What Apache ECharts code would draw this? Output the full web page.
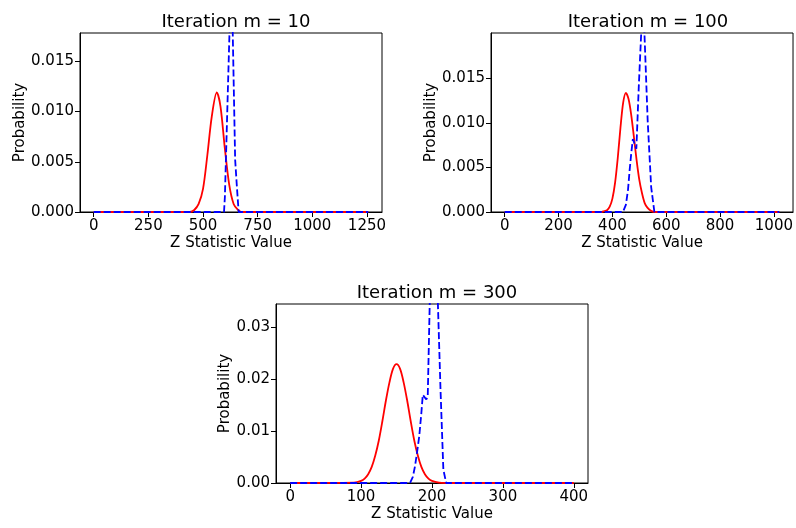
<!DOCTYPE html>
<html>
<head>
<meta charset="utf-8">
<script src="https://cdn.jsdelivr.net/npm/echarts@6/dist/echarts.min.js"></script>
<style>
html,body{margin:0;padding:0;background:#fff;}
#chart{width:796px;height:528px;}
</style>
</head>
<body>
<div id="chart"></div>
<script>
// ---- Titles ----
const titles = ["Iteration m = 10", "Iteration m = 100", "Iteration m = 300"];
const xAxisName = "Z Statistic Value";
const yAxisName = "Probability";

// ---- Tick labels ----
const m10XTicks = [0, 250, 500, 750, 1000, 1250];
const m10YTicks = [0, 0.005, 0.010, 0.015];
const m100XTicks = [0, 200, 400, 600, 800, 1000];
const m100YTicks = [0, 0.005, 0.010, 0.015];
const m300XTicks = [0, 100, 200, 300, 400];
const m300YTicks = [0, 0.01, 0.02, 0.03];

// ---- m = 10 ----
const m10RedX = [0, 440, 460, 480, 500, 520, 540, 563, 580, 600, 620, 640, 660, 675, 1256];
const m10RedY = [0, 0, 0.0002, 0.0008, 0.0023, 0.0057, 0.0095, 0.0119, 0.0105, 0.0063, 0.0027, 0.0008, 0.0002, 0, 0];
const m10BlueX = [0, 596, 600, 610, 621, 627, 631, 636, 647, 655, 663, 1256];
const m10BlueY = [0, 0, 0.0015, 0.0093, 0.0178, 0.024, 0.024, 0.0178, 0.0052, 0.0025, 0, 0];

// ---- m = 100 ----
const m100RedX = [0, 360, 370, 380, 390, 400, 410, 420, 430, 440, 450, 460, 470, 480, 490, 500, 510, 520, 530, 545, 560, 1020];
const m100RedY = [0, 0, 0.0001, 0.0002, 0.0006, 0.0015, 0.0033, 0.0061, 0.0095, 0.0123, 0.0134, 0.0127, 0.0109, 0.0084, 0.0058, 0.0036, 0.0021, 0.001, 0.0005, 0.0001, 0, 0];
const m100BlueX = [0, 439, 450, 458, 464, 470, 476, 482, 489, 498, 507, 513, 519, 531, 544, 556, 1020];
const m100BlueY = [0, 0, 0.0008, 0.0025, 0.0047, 0.0066, 0.0082, 0.0077, 0.0071, 0.0141, 0.0201, 0.024, 0.0201, 0.0103, 0.0028, 0, 0];

// ---- m = 300 ----
const m300RedX = [0, 90, 100, 105, 110, 115, 120, 125, 130, 135, 140, 145, 150, 155, 160, 165, 170, 175, 180, 185, 190, 195, 200, 210, 220, 400];
const m300RedY = [0, 0.00006, 0.0004, 0.00085, 0.0017, 0.0031, 0.0053, 0.0082, 0.0119, 0.0159, 0.0194, 0.0220, 0.0229, 0.0220, 0.0194, 0.0159, 0.0119, 0.0082, 0.0053, 0.0031, 0.0017, 0.00085, 0.0004, 0.00006, 0, 0];
const m300BlueX = [0, 169, 173, 176, 179, 182, 185, 187, 189, 192, 194, 197, 202, 208, 212, 216, 220, 400];
const m300BlueY = [0, 0, 0.0012, 0.0032, 0.006, 0.009, 0.0135, 0.017, 0.0168, 0.0161, 0.0167, 0.036, 0.05, 0.036, 0.018, 0.0026, 0, 0];

function pairs(xs, ys) { return xs.map((x, i) => [x, ys[i]]); }

const FONT = "DejaVu Sans";
const grids = [
  {left: 80, top: 33, width: 302, height: 179},
  {left: 491, top: 33, width: 304, height: 179},
  {left: 276, top: 304, width: 312, height: 179}
];
const xRanges = [[-62.8, 1318.8], [-51, 1071], [-20, 420]];
const yMax = [0.01782, 0.02012, 0.03451];
const xTicks = [m10XTicks, m100XTicks, m300XTicks];
const yTicks = [m10YTicks, m100YTicks, m300YTicks];
const yDecimals = [3, 3, 2];
const yNameGaps = [51, 51, 42];

const option = {
  animation: false,
  backgroundColor: '#fff',
  title: grids.map((g, i) => ({
    text: titles[i],
    left: g.left + g.width / 2,
    top: g.top - 25,
    textAlign: 'center',
    textStyle: {fontFamily: FONT, fontSize: 18, fontWeight: 'normal', color: '#000'}
  })),
  grid: grids.map(g => Object.assign({show: true, borderColor: '#000', borderWidth: 1, backgroundColor: 'transparent'}, g)),
  xAxis: grids.map((g, i) => ({
    type: 'value', gridIndex: i, min: xRanges[i][0], max: xRanges[i][1],
    name: xAxisName, nameLocation: 'middle', nameGap: 24,
    nameTextStyle: {fontFamily: FONT, fontSize: 15, color: '#000'},
    splitLine: {show: false},
    axisLine: {show: true, onZero: false, lineStyle: {color: '#000', width: 1}},
    axisTick: {show: true, inside: false, length: 5, lineStyle: {color: '#000', width: 1}, customValues: xTicks[i]},
    axisLabel: {fontFamily: FONT, fontSize: 15, color: '#000', margin: 7, customValues: xTicks[i], formatter: v => String(v)}
  })),
  yAxis: grids.map((g, i) => ({
    type: 'value', gridIndex: i, min: 0, max: yMax[i],
    name: yAxisName, nameLocation: 'middle', nameGap: yNameGaps[i], nameRotate: 90,
    nameTextStyle: {fontFamily: FONT, fontSize: 15, color: '#000'},
    splitLine: {show: false},
    axisLine: {show: true, onZero: false, lineStyle: {color: '#000', width: 1}},
    axisTick: {show: true, inside: false, length: 5, lineStyle: {color: '#000', width: 1}, customValues: yTicks[i]},
    axisLabel: {fontFamily: FONT, fontSize: 15, color: '#000', margin: 6, customValues: yTicks[i], formatter: v => v.toFixed(yDecimals[i])}
  })),
  series: []
};

const redData = [pairs(m10RedX, m10RedY), pairs(m100RedX, m100RedY), pairs(m300RedX, m300RedY)];
const blueData = [pairs(m10BlueX, m10BlueY), pairs(m100BlueX, m100BlueY), pairs(m300BlueX, m300BlueY)];
for (let i = 0; i < 3; i++) {
  option.series.push({
    type: 'line', xAxisIndex: i, yAxisIndex: i, data: redData[i], showSymbol: false, symbol: 'none',
    smooth: 0.3,
    clip: true, lineStyle: {color: '#ff0000', width: 1.8, type: 'solid'}
  });
  option.series.push({
    type: 'line', xAxisIndex: i, yAxisIndex: i, data: blueData[i], showSymbol: false, symbol: 'none',
    clip: true, lineStyle: {color: '#0000ff', width: 1.8, type: [7, 3]}
  });
}

const chart = echarts.init(document.getElementById('chart'), null, {renderer: 'canvas'});
chart.setOption(option);
</script>
</body>
</html>
